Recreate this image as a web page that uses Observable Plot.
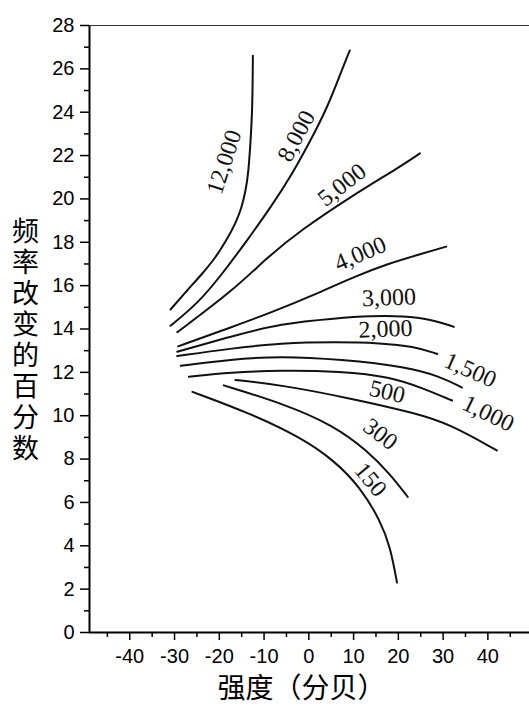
<!DOCTYPE html>
<html><head><meta charset="utf-8">
<script src="https://cdn.jsdelivr.net/npm/d3@7"></script>
<script src="https://cdn.jsdelivr.net/npm/@observablehq/plot@0.6"></script>
<style>body{margin:0;background:#fff}</style>
</head><body><div id="chart"></div>
<script>
// Curves: frequency (Hz) -> [intensity dB, % frequency change]
const c12000 = [[-30.9,14.9],[-27.1,15.8],[-23.8,16.55],[-20.8,17.3],[-18.4,18.1],[-16.4,18.85],[-15.0,19.6],[-14.1,20.4],[-13.5,21.2],[-13.0,22.7],[-12.6,24.2],[-12.5,26.6]];
const c8000 = [[-30.9,14.15],[-24.7,15.2],[-19.3,16.55],[-13.75,18.1],[-8.55,19.6],[-3.7,21.15],[0.4,22.7],[4.1,24.2],[7.1,25.8],[9.15,26.85]];
const c5000 = [[-29.4,13.85],[-16.8,15.8],[-9.3,17.3],[-1.85,18.55],[9.3,20.1],[20.5,21.5],[24.8,22.1]];
const c4000 = [[-29.2,13.2],[-17.7,14.05],[-8.55,14.75],[2.6,15.7],[10.0,16.4],[17.5,17.0],[24.9,17.45],[30.7,17.8]];
const c3000 = [[-29.4,12.95],[-17.5,13.65],[-6.3,14.25],[6.3,14.5],[13.8,14.6],[21.2,14.6],[27.2,14.45],[32.4,14.1]];
const c2000 = [[-29.4,12.75],[-17.5,13.1],[-6.3,13.35],[6.3,13.4],[16.0,13.35],[23.4,13.2],[28.7,12.85]];
const c1500 = [[-28.6,12.3],[-17.5,12.6],[-6.3,12.75],[7.1,12.6],[22.0,12.25],[29.4,11.8],[34.2,11.3]];
const c1000 = [[-26.8,11.8],[-17.5,12.0],[-6.3,12.1],[7.1,12.05],[18.2,11.8],[25.7,11.25],[32.0,10.7]];
const c500 = [[-16.4,11.65],[-5.6,11.4],[9.3,10.8],[24.2,10.1],[31.6,9.6],[42.0,8.4]];
const c300 = [[-19.0,11.4],[-5.6,10.55],[5.6,9.55],[13.0,8.4],[18.2,7.3],[22.1,6.25]];
const c150 = [[-26.0,11.1],[-13.0,10.1],[-1.85,9.0],[5.6,7.95],[11.5,6.7],[16.0,5.15],[18.2,3.95],[19.7,2.3]];

const seriesNames = ["12,000","8,000","5,000","4,000","3,000","2,000","1,500","1,000","500","300","150"];
const seriesData = [c12000,c8000,c5000,c4000,c3000,c2000,c1500,c1000,c500,c300,c150];

// Curve labels
const labelText = ["12,000","8,000","5,000","4,000","3,000","2,000","1,500","1,000","500","300","150"];
const labelX = [-18.9,-2.8,7.4,11.5,17.9,17.1,36.1,40.1,17.5,16.0,13.8];
const labelY = [21.7,22.9,20.65,17.47,15.45,14.0,12.1,10.1,11.1,9.15,7.05];
const labelAngle = [-72,-62,-38,-23,-2,-2,24,26,13,37,50];

const xMajor = [-40,-30,-20,-10,0,10,20,30,40];
const xMinor = [-45,-35,-25,-15,-5,5,15,25,35,45];
const yMajor = [0,2,4,6,8,10,12,14,16,18,20,22,24,26,28];
const yMinor = [1,3,5,7,9,11,13,15,17,19,21,23,25,27];
const xDomain = [-49, 49.3];
const yDomain = [0, 28];
const xTitle = "强度（分贝）";
const yTitle = "频率改变的百分数";

const rows = seriesData.flatMap((pts, i) => pts.map(([x, y]) => ({s: seriesNames[i], x, y})));
const labels = labelText.map((t, i) => ({t, x: labelX[i], y: labelY[i], a: labelAngle[i]}));
const fmt = d => String(d);

const chart = Plot.plot({
  width: 529, height: 711,
  marginLeft: 89, marginRight: 0, marginTop: 25, marginBottom: 79,
  x: {domain: xDomain},
  y: {domain: yDomain},
  style: {fontFamily: "Liberation Sans, Arial, sans-serif", fontSize: "20px", background: "#fff", color: "#000", overflow: "visible"},
  marks: [
    Plot.axisY(yMajor, {tickSize: 9, tickPadding: 6, fontSize: 20, strokeWidth: 1.5, label: null, tickFormat: fmt}),
    Plot.axisY(yMinor, {tickSize: 5, text: null, strokeWidth: 1.5, label: null}),
    Plot.axisX(xMajor, {tickSize: 8, tickPadding: 8, fontSize: 20, strokeWidth: 1.5, label: null, tickFormat: fmt}),
    Plot.axisX(xMinor, {tickSize: 5, text: null, strokeWidth: 1.5, label: null}),
    Plot.ruleX([xDomain[0]], {strokeWidth: 2}),
    Plot.ruleY([yDomain[0]], {strokeWidth: 2}),
    Plot.ruleY([yDomain[1]], {strokeWidth: 1.2, stroke: "#333"}),
    Plot.line(rows, {x: "x", y: "y", z: "s", curve: "basis", stroke: "#111", strokeWidth: 2}),
    Plot.text(labels, {x: "x", y: "y", text: "t", rotate: "a", fontFamily: "Liberation Serif, serif", fontSize: 24, fill: "#111"}),
    Plot.text([yTitle], {frameAnchor: "left", dx: -64, dy: 4, fontSize: 27, fontFamily: "Noto Sans CJK SC", textAnchor: "middle", className: "ytitle"}),
    Plot.text([xTitle], {frameAnchor: "bottom", dx: -8, dy: 65, fontSize: 28, fontFamily: "Noto Sans CJK SC"})
  ]
});
chart.querySelectorAll(".ytitle text").forEach(t => {
  t.style.writingMode = "vertical-rl";
  t.style.letterSpacing = "4px";
  t.setAttribute("dy", "0");
});
document.getElementById("chart").appendChild(chart);
</script>
</body></html>
